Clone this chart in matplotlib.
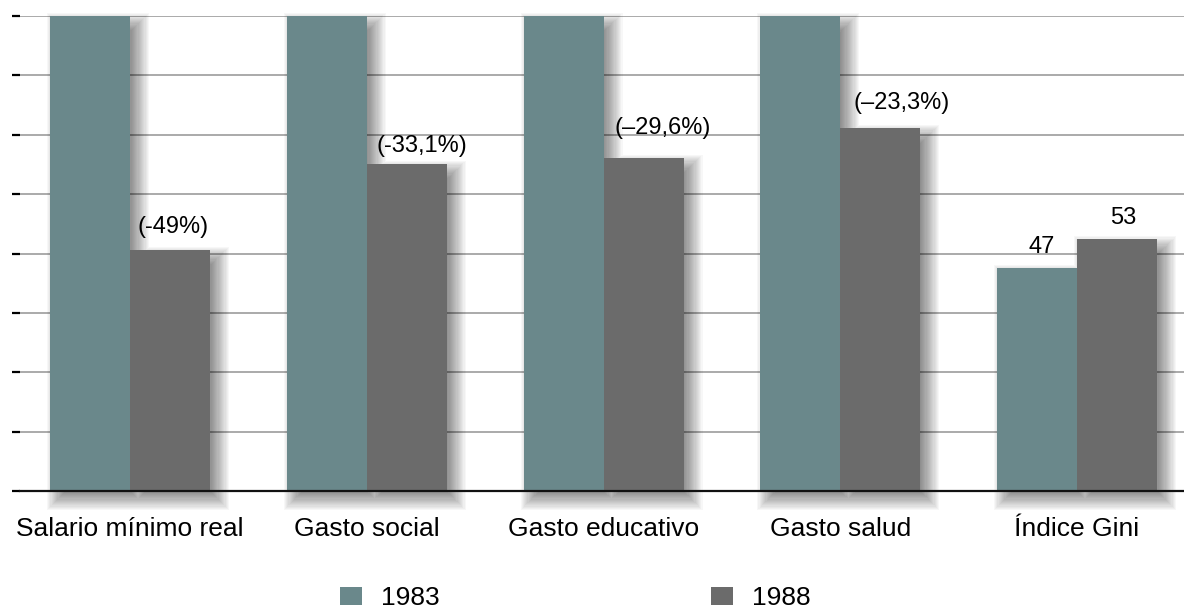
# -*- coding: utf-8 -*-
# Grouped bars 1983 vs 1988 with soft drop shadows
import matplotlib
matplotlib.use('Agg')
import matplotlib.pyplot as plt
from matplotlib.patches import PathPatch
from matplotlib.path import Path
from matplotlib.transforms import IdentityTransform
import numpy as np

plt.rcParams['font.family'] = ['Liberation Sans', 'DejaVu Sans']

# data
categories = ['Salario mínimo real', 'Gasto social', 'Gasto educativo', 'Gasto salud', 'Índice Gini']
years = ['1983', '1988']
v1983 = [100, 100, 100, 100, 47]
v1988 = [50.8, 68.9, 70.2, 76.5, 53]
labels1983 = ['', '', '', '', '47']
labels1988 = ['(-49%)', '(-33,1%)', '(–29,6%)', '(–23,3%)', '53']

# style
c1983 = '#6A888B'
c1988 = '#6B6B6B'
off1983 = [(0, 0)] * 4 + [(5, 15)]
off1988 = [(3.5, 17), (15.5, 12), (19.5, 24), (21.5, 19), (6, 15)]

W, H = 1184, 611
fig = plt.figure(figsize=(W / 100, H / 100), dpi=100)
ax = fig.add_axes([20 / W, 1 - 491 / H, 1164 / W, 475 / H])

x = np.arange(len(categories))
bw = 80 / 236.75
ax.set_xlim(-110 / 236.75, -110 / 236.75 + 1164 / 236.75)
ax.set_ylim(0, 100)

b1 = ax.bar(x - bw / 2, v1983, bw, color=c1983, zorder=3)
b2 = ax.bar(x + bw / 2, v1988, bw, color=c1988, zorder=3)


def rect_path(x0, y0, x1, y1):
    return [(x0, y0), (x1, y0), (x1, y1), (x0, y1), (x0, y0)]


def add_shadow(groups, dx=8, dy=-8, blur=22, layers=20, alpha=0.03):
    # stacked translucent shapes in pixel space give a soft shadow;
    # the bars of a group are joined into one path so they don't double up
    for group in groups:
        boxes = []
        for bar in group:
            x0, y0 = ax.transData.transform((bar.get_x(), 0))
            x1, y1 = ax.transData.transform((bar.get_x() + bar.get_width(), bar.get_height()))
            boxes.append((x0, y0, x1, y1))
        for k in range(layers):
            g = -blur / 2 + blur * k / (layers - 1)
            verts, codes = [], []
            for x0, y0, x1, y1 in boxes:
                verts += rect_path(x0 + dx - g, y0 + dy - g, x1 + dx + g, y1 + dy + g)
                codes += [Path.MOVETO] + [Path.LINETO] * 3 + [Path.CLOSEPOLY]
            p = PathPatch(Path(verts, codes), transform=IdentityTransform(),
                          facecolor='black', edgecolor='none', alpha=alpha,
                          zorder=2, clip_on=False)
            ax.add_artist(p)


add_shadow(zip(b1, b2))

# value labels
for bar, lab, off in zip(b1, labels1983, off1983):
    if lab:
        ax.annotate(lab, (bar.get_x() + bar.get_width() / 2, bar.get_height()),
                    xytext=off, textcoords='offset pixels', ha='center', va='baseline',
                    fontsize=17, zorder=5)
for bar, lab, off in zip(b2, labels1988, off1988):
    ax.annotate(lab, (bar.get_x() + bar.get_width() / 2, bar.get_height()),
                xytext=off, textcoords='offset pixels', ha='center', va='baseline',
                fontsize=17, zorder=5)

# axes styling
ax.set_yticks(np.arange(0, 100.1, 12.5))
ax.set_yticklabels([])
ax.yaxis.grid(True, color='#AAAAAA', linewidth=1.4, zorder=1)
ax.set_axisbelow(True)
ax.tick_params(axis='y', length=6, width=1.6, color='black', direction='out')
ax.set_xticks(x)
ax.set_xticklabels(categories, fontsize=19)
ax.tick_params(axis='x', length=0, pad=19)
for s in ['top', 'right', 'left']:
    ax.spines[s].set_visible(False)
ax.spines['bottom'].set_linewidth(1.6)
ax.spines['bottom'].set_color('#111111')
ax.spines['bottom'].set_zorder(4)

fig.legend([b1, b2], years, loc='center', bbox_to_anchor=(575.5 / W, 13 / H),
           ncol=2, frameon=False, fontsize=19, handlelength=0.83, handleheight=0.7,
           handletextpad=0.72, columnspacing=10.3)

fig.savefig('out.png', dpi=100)
